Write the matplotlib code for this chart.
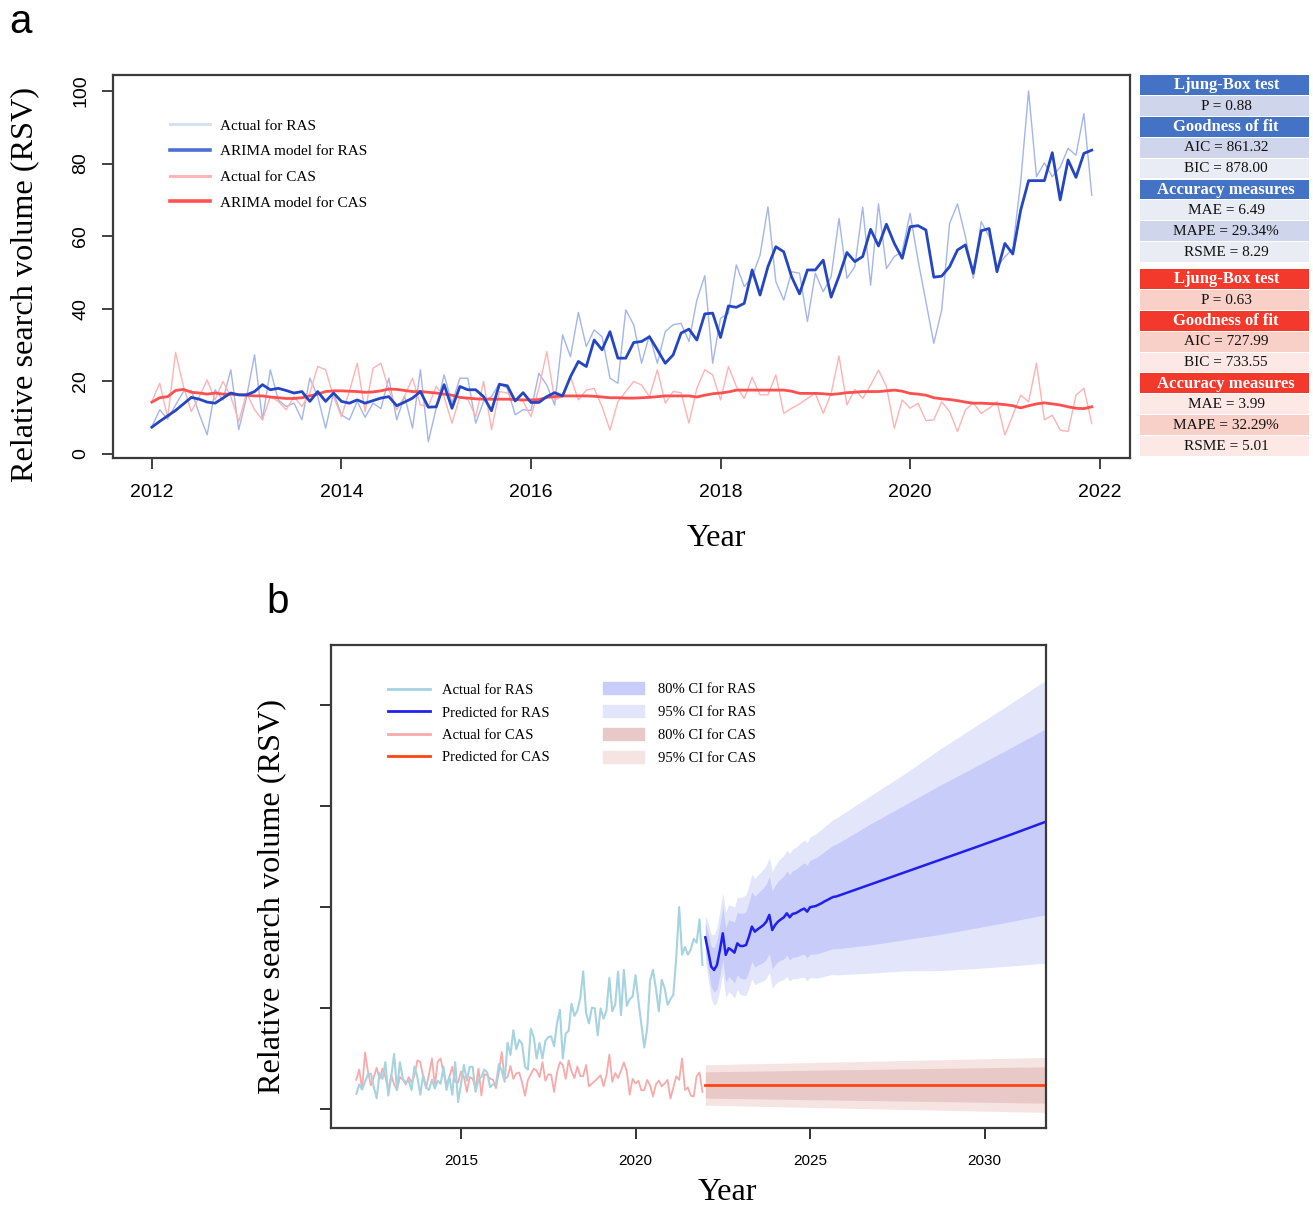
import matplotlib
matplotlib.use("Agg")
import matplotlib.pyplot as plt
import numpy as np
from matplotlib.lines import Line2D
from matplotlib.patches import Patch, Rectangle

SERIF = "Liberation Serif"
SANS = "Liberation Sans"
plt.rcParams["font.family"] = SANS

# ---- monthly search volume, Jan 2012 .. Dec 2021 ----
ras_actual = [
    7.5, 12.2, 9.6, 13.5, 17.2, 17.5, 11.0, 5.3, 17.7, 14.9, 23.2, 6.7,
    15.8, 27.3, 9.4, 23.2, 14.9, 13.1, 14.0, 9.4, 20.9, 15.8, 7.1, 16.8,
    10.8, 9.4, 14.5, 10.1, 14.0, 12.5, 20.9, 9.4, 16.0, 7.1, 23.2, 3.4,
    12.6, 21.8, 14.0, 20.9, 20.9, 8.5, 14.5, 15.8, 19.5, 18.1, 10.8, 12.2,
    12.0, 22.2, 19.0, 13.5, 32.8, 26.8, 39.0, 29.6, 34.2, 32.3, 20.9, 19.5,
    39.7, 35.6, 25.0, 32.8, 25.0, 33.7, 35.6, 36.0, 31.0, 42.4, 49.1, 25.0,
    37.4, 38.7, 52.1, 46.1, 48.8, 54.8, 68.1, 47.5, 42.4, 50.2, 49.8, 36.5,
    49.8, 44.7, 48.8, 64.9, 48.4, 51.6, 68.0, 46.5, 68.9, 51.1, 54.4, 55.7,
    66.3, 53.4, 42.0, 30.5, 39.7, 63.5, 68.9, 59.9, 48.4, 64.0, 59.9, 51.6,
    54.3, 56.6, 75.0, 100.0, 76.4, 80.2, 76.4, 79.0, 84.2, 82.3, 93.8, 71.3,
]
ras_model = [
    7.4, 9.0, 10.5, 12.0, 13.8, 15.6, 15.1, 14.3, 14.0, 15.4, 16.8, 16.3,
    16.3, 17.2, 19.1, 17.7, 18.1, 17.5, 16.8, 17.2, 14.5, 17.2, 14.5, 16.8,
    14.5, 14.0, 14.9, 14.0, 14.7, 15.4, 15.8, 13.3, 14.3, 15.4, 17.2, 12.9,
    13.0, 19.1, 12.6, 18.6, 17.7, 17.7, 15.8, 11.9, 19.2, 18.8, 14.6, 16.9,
    14.2, 14.2, 15.8, 16.9, 16.0, 21.3, 25.5, 24.1, 31.4, 28.7, 33.7, 26.4,
    26.4, 30.7, 31.0, 32.3, 28.7, 25.0, 27.3, 33.3, 34.4, 31.4, 38.6, 38.8,
    32.1, 40.8, 40.4, 41.5, 50.7, 43.8, 51.6, 57.1, 55.7, 48.8, 44.1, 50.7,
    50.7, 53.4, 43.2, 49.0, 55.5, 53.0, 54.4, 61.9, 57.3, 63.3, 58.0, 53.9,
    62.6, 62.9, 61.7, 48.7, 49.0, 51.6, 56.2, 57.6, 49.8, 61.5, 62.1, 50.2,
    58.0, 55.1, 67.2, 75.3, 75.3, 75.3, 83.0, 70.0, 81.0, 76.2, 82.8, 83.7,
]
cas_actual = [
    14.5, 19.5, 9.9, 28.0, 18.6, 11.7, 15.8, 20.4, 14.9, 20.0, 15.8, 9.0,
    16.8, 12.2, 9.4, 15.8, 14.5, 12.2, 15.8, 13.1, 16.8, 24.1, 23.2, 15.8,
    10.3, 17.2, 25.0, 11.7, 23.6, 25.0, 17.7, 12.2, 16.0, 20.9, 13.5, 13.1,
    18.6, 15.8, 8.5, 15.8, 15.0, 10.3, 20.0, 6.7, 17.2, 16.8, 15.0, 14.5,
    10.3, 18.1, 28.2, 14.9, 15.8, 21.3, 14.9, 17.6, 18.1, 13.0, 6.6, 14.4,
    17.2, 20.0, 19.0, 15.8, 23.2, 14.0, 17.2, 16.9, 8.5, 18.1, 23.2, 21.8,
    14.9, 24.1, 18.6, 15.3, 21.1, 16.3, 16.3, 21.8, 11.2, 12.6, 13.8, 15.3,
    16.7, 11.2, 16.7, 27.0, 13.5, 17.8, 15.3, 19.0, 23.1, 18.6, 7.1, 14.9,
    12.6, 14.0, 9.2, 9.4, 14.4, 11.7, 6.2, 12.1, 14.1, 11.2, 12.6, 14.4,
    5.2, 10.7, 16.2, 14.4, 25.0, 9.4, 10.7, 6.6, 6.2, 16.2, 18.1, 8.4,
]
cas_model = [
    14.3, 15.5, 15.8, 17.5, 17.8, 17.0, 16.8, 16.5, 16.8, 16.5, 16.5, 16.3,
    16.2, 16.0, 16.0, 15.7, 15.5, 15.3, 15.3, 15.5, 16.0, 16.5, 17.2, 17.4,
    17.4, 17.3, 17.2, 17.0, 17.1, 17.4, 17.9, 17.8, 17.5, 17.2, 17.2, 17.0,
    16.8, 16.5, 16.2, 15.6, 15.4, 15.2, 15.1, 15.1, 15.1, 15.1, 15.0, 14.9,
    14.9, 15.0, 15.6, 15.8, 16.0, 16.0, 16.0, 16.0, 15.9, 15.7, 15.5, 15.5,
    15.4, 15.4, 15.5, 15.6, 15.8, 16.0, 16.0, 16.0, 16.0, 15.7, 16.2, 16.6,
    16.8, 17.1, 17.6, 17.6, 17.6, 17.6, 17.6, 17.6, 17.6, 17.3, 16.7, 16.7,
    16.7, 16.6, 16.4, 16.6, 16.9, 17.0, 17.2, 17.2, 17.2, 17.4, 17.6, 17.3,
    16.7, 16.5, 16.2, 15.5, 15.2, 15.0, 14.7, 14.3, 14.0, 14.0, 13.9, 13.8,
    13.6, 13.3, 12.7, 13.3, 13.8, 14.1, 13.8, 13.5, 13.0, 12.6, 12.5, 13.0,
]

# ---- forecast (months after Jan 2022) ----
ras_fc_month = list(range(46)) + [57, 69, 81, 93, 105, 117]
ras_fc = [
    85.0, 77.9, 70.5, 68.8, 71.3, 78.7, 87.0, 76.3, 79.6, 78.7, 77.4, 82.0,
    80.7, 80.7, 81.2, 85.3, 90.3, 87.8, 89.0, 90.0, 91.1, 92.8, 96.1, 88.6,
    91.1, 92.8, 93.9, 94.9, 96.9, 94.9, 96.6, 96.9, 97.7, 98.6, 99.2, 97.7,
    99.9, 100.2, 100.5, 101.2, 101.9, 102.8, 103.5, 104.3, 105.0, 105.2,
    111.3, 117.4, 123.5, 129.6, 135.8, 142.2,
]
ras_hw80 = [
    7, 9, 10, 11, 12, 12.5, 13, 13.5, 14, 14.5, 15, 15.5,
    16, 16.3, 16.6, 16.9, 17.2, 17.5, 17.8, 18.1, 18.4, 18.7, 19.0, 19.3,
    19.6, 19.9, 20.2, 20.5, 20.8, 21.1, 21.4, 21.7, 22.0, 22.3, 22.6, 22.9,
    23.2, 23.5, 23.8, 24.1, 24.4, 24.7, 25.0, 25.3, 25.6, 25.9,
    30, 33.5, 37, 40, 43, 46,
]
ras_hw95 = [
    11, 14, 16, 17.5, 18.5, 19.5, 20, 21, 21.5, 22, 22.5, 23,
    24, 24.4, 24.9, 25.3, 25.8, 26.2, 26.7, 27.1, 27.6, 28.0, 28.5, 28.9,
    29.4, 29.8, 30.3, 30.7, 31.2, 31.6, 32.1, 32.5, 33.0, 33.4, 33.9, 34.3,
    34.8, 35.2, 35.7, 36.1, 36.6, 37.0, 37.5, 37.9, 38.4, 38.8,
    44, 49, 55, 60, 65, 70,
]
cas_fc_month = [0, 117]
cas_fc = [11.9, 11.9]
cas_hw80 = [6.5, 9.0]
cas_hw95 = [10.0, 13.6]

# ---- model statistics ----
ras_stats = [("Ljung-Box test", "h"), ("P = 0.88", "d"), ("Goodness of fit", "h"),
             ("AIC = 861.32", "d"), ("BIC = 878.00", "l"), ("Accuracy measures", "h"),
             ("MAE = 6.49", "l"), ("MAPE = 29.34%", "d"), ("RSME = 8.29", "l")]
cas_stats = [("Ljung-Box test", "h"), ("P = 0.63", "d"), ("Goodness of fit", "h"),
             ("AIC = 727.99", "d"), ("BIC = 733.55", "l"), ("Accuracy measures", "h"),
             ("MAE = 3.99", "l"), ("MAPE = 32.29%", "d"), ("RSME = 5.01", "l")]

years = 2012 + np.arange(len(ras_actual)) / 12
ras_fc_t = 2022 + np.array(ras_fc_month) / 12
cas_fc_t = 2022 + np.array(cas_fc_month) / 12

W, H = 1313, 1208
fig = plt.figure(figsize=(W / 100, H / 100), dpi=100)


def px_axes(l, t, r, b):
    return fig.add_axes([l / W, 1 - b / H, (r - l) / W, (b - t) / H])


def style_frame(ax):
    for s in ax.spines.values():
        s.set_linewidth(1.6)
        s.set_color("#3a3a3a")


# ================= panel a =================
ax1 = px_axes(113, 75, 1130, 458)
ax1.plot(years, ras_actual, color="#a3b5ec", lw=1.0)
ax1.plot(years, cas_actual, color="#ffb2b2", lw=1.0)
ax1.plot(years, cas_model, color="#ff4f4f", lw=2.0)
ax1.plot(years, ras_model, color="#2446c2", lw=2.0)
ax1.set_xlim(2011.59, 2022.32)
ax1.set_ylim(-1.1, 104.4)
ax1.set_xticks(range(2012, 2023, 2))
ax1.set_yticks(range(0, 101, 20))
ax1.tick_params(direction="out", length=8, width=1.3, labelsize=14, color="#333333")
ax1.tick_params(axis="x", pad=11)
ax1.tick_params(axis="y", labelrotation=90, pad=9)
for t in ax1.get_yticklabels():
    t.set_va("center")
style_frame(ax1)

leg_a = [Line2D([], [], color="#d4e2f1", lw=2.2),
         Line2D([], [], color="#4d6fd6", lw=2.6),
         Line2D([], [], color="#ffb6b6", lw=2.2),
         Line2D([], [], color="#ff5252", lw=2.6)]
ax1.legend(leg_a, ["Actual for RAS", "ARIMA model for RAS", "Actual for CAS", "ARIMA model for CAS"],
           loc="upper left", bbox_to_anchor=(0.056, 0.885), frameon=False, borderpad=0,
           borderaxespad=0, handlelength=2.6, handletextpad=0.65, labelspacing=0.78,
           prop={"family": SERIF, "size": 11})

fig.text(25 / W, 1 - 284 / H, "Relative search volume (RSV)", family=SERIF, size=23.2,
         rotation=90, ha="center", va="center")
fig.text(716 / W, 1 - 538 / H, "Year", family=SERIF, size=23.2, ha="center", va="center")
fig.text(9 / W, 1 - 3 / H, "a", size=29, ha="left", va="top")

# statistics table
axt = px_axes(1140, 75, 1309, 456)
axt.set_xlim(0, 1)
axt.set_ylim(456, 75)
axt.axis("off")
palettes = {"ras": {"h": "#4472c4", "d": "#cfd5ea", "l": "#e9ebf5"},
            "cas": {"h": "#f2392c", "d": "#f8d0c7", "l": "#fce8e4"}}
for top0, rows, pal in [(75, ras_stats, palettes["ras"]), (269, cas_stats, palettes["cas"])]:
    for i, (txt, kind) in enumerate(rows):
        top = top0 + i * 20.9
        axt.add_patch(Rectangle((0, top), 1, 19.9, color=pal[kind], lw=0))
        if kind == "h":
            axt.text(0.51, top + 10.2, txt, ha="center", va="center", family=SERIF,
                     size=12, weight="bold", color="white")
        else:
            axt.text(0.51, top + 10.2, txt, ha="center", va="center", family=SERIF,
                     size=11, color="#111111")

# ================= panel b =================
ax2 = px_axes(331, 645, 1046, 1128)
ras_fc_a = np.array(ras_fc)
cas_fc_a = np.array(cas_fc)
ax2.fill_between(ras_fc_t, ras_fc_a - np.array(ras_hw95), ras_fc_a + np.array(ras_hw95),
                 color="#e3e5fb", lw=0)
ax2.fill_between(ras_fc_t, ras_fc_a - np.array(ras_hw80), ras_fc_a + np.array(ras_hw80),
                 color="#c7ccf8", lw=0)
ax2.fill_between(cas_fc_t, cas_fc_a - np.array(cas_hw95), cas_fc_a + np.array(cas_hw95),
                 color="#f6e4e2", lw=0)
ax2.fill_between(cas_fc_t, cas_fc_a - np.array(cas_hw80), cas_fc_a + np.array(cas_hw80),
                 color="#e8c9c7", lw=0)
ax2.plot(years, cas_actual, color="#f8a9a9", lw=1.3)
ax2.plot(years, ras_actual, color="#a6d3e0", lw=1.5)
ax2.plot(ras_fc_t, ras_fc, color="#2020ee", lw=1.8)
ax2.plot(cas_fc_t, cas_fc, color="#ff4412", lw=2.0)
ax2.set_xlim(2011.275, 2031.76)
ax2.set_ylim(-9.4, 229.7)
ax2.set_xticks(range(2015, 2031, 5))
ax2.set_yticks(range(0, 201, 50))
ax2.set_yticklabels([])
ax2.tick_params(direction="out", length=8, width=1.3, labelsize=11, color="#222222")
ax2.tick_params(axis="x", pad=11)
style_frame(ax2)

leg_b1 = ax2.legend([Line2D([], [], color="#a6d3e0", lw=2),
                     Line2D([], [], color="#2020ee", lw=2),
                     Line2D([], [], color="#f8a9a9", lw=2),
                     Line2D([], [], color="#ff4412", lw=2)],
                    ["Actual for RAS", "Predicted for RAS", "Actual for CAS", "Predicted for CAS"],
                    loc="upper left", bbox_to_anchor=(0.0797, 0.919), frameon=False, borderpad=0,
                    borderaxespad=0, handlelength=2.85, handletextpad=0.88, labelspacing=0.62,
                    prop={"family": SERIF, "size": 10.5})
ax2.add_artist(leg_b1)
ax2.legend([Patch(color="#c7ccf8"), Patch(color="#e3e5fb"),
            Patch(color="#e8c9c7"), Patch(color="#f6e4e2")],
           ["80% CI for RAS", "95% CI for RAS", "80% CI for CAS", "95% CI for CAS"],
           loc="upper left", bbox_to_anchor=(0.380, 0.923), frameon=False, borderpad=0,
           borderaxespad=0, handlelength=2.85, handleheight=0.9, handletextpad=0.96,
           labelspacing=0.61, prop={"family": SERIF, "size": 10.5})

fig.text(272 / W, 1 - 896 / H, "Relative search volume (RSV)", family=SERIF, size=23.2,
         rotation=90, ha="center", va="center")
fig.text(727 / W, 1 - 1193 / H, "Year", family=SERIF, size=23.2, ha="center", va="center")
fig.text(266 / W, 1 - 583 / H, "b", size=29, ha="left", va="top")

fig.savefig("out.png", dpi=100, facecolor="white")
